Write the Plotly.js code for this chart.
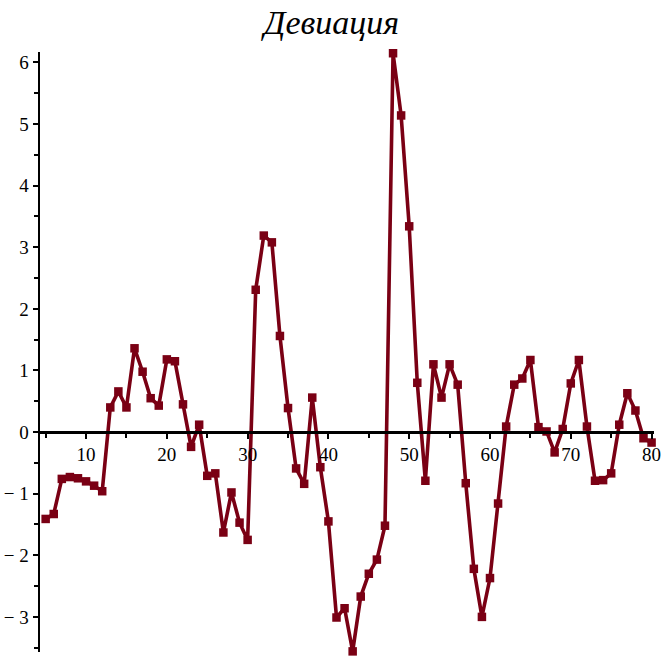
<!DOCTYPE html>
<html>
<head>
<meta charset="utf-8">
<script src="https://cdn.plot.ly/plotly-3.0.1.min.js"></script>
<style>
  html, body { margin: 0; padding: 0; background: #fff; }
  #chart { width: 663px; height: 656px; }
</style>
</head>
<body>
<div id="chart"></div>
<script>
// Deviation series, one value per step from 5 to 80
const steps = [
  5, 6, 7, 8, 9, 10, 11, 12, 13, 14, 15, 16, 17, 18, 19, 20,
  21, 22, 23, 24, 25, 26, 27, 28, 29, 30, 31, 32, 33, 34, 35, 36,
  37, 38, 39, 40, 41, 42, 43, 44, 45, 46, 47, 48, 49, 50, 51, 52,
  53, 54, 55, 56, 57, 58, 59, 60, 61, 62, 63, 64, 65, 66, 67, 68,
  69, 70, 71, 72, 73, 74, 75, 76, 77, 78, 79, 80
];
const deviation = [
  -1.41, -1.33, -0.76, -0.73, -0.75, -0.80, -0.87, -0.96, 0.40, 0.66, 0.40, 1.36, 0.98, 0.55, 0.43, 1.18,
  1.15, 0.45, -0.24, 0.12, -0.71, -0.67, -1.63, -0.98, -1.47, -1.75, 2.31, 3.19, 3.08, 1.56, 0.39, -0.59,
  -0.84, 0.56, -0.57, -1.45, -3.01, -2.86, -3.56, -2.67, -2.30, -2.07, -1.52, 6.15, 5.14, 3.34, 0.80, -0.79,
  1.10, 0.56, 1.10, 0.77, -0.83, -2.22, -3.00, -2.37, -1.16, 0.09, 0.77, 0.87, 1.17, 0.08, 0.01, -0.33,
  0.05, 0.79, 1.17, 0.09, -0.79, -0.78, -0.67, 0.12, 0.63, 0.35, -0.10, -0.17
];

const xTickVals = [10, 20, 30, 40, 50, 60, 70, 80];
const yTickVals = [-3, -2, -1, 0, 1, 2, 3, 4, 5, 6];
const yTickText = ['\u2212 3', '\u2212 2', '\u2212 1', '0', '1', '2', '3', '4', '5', '6'];

const xRange = [4.3, 80.3];
const yRange = [-3.57, 6.17];
// place the horizontal axis on the line y = 0
const xAxisPos = (0 - yRange[0]) / (yRange[1] - yRange[0]);

const lineColor = '#7a0014';
const serif = 'Liberation Serif';

const trace = {
  x: steps,
  y: deviation,
  type: 'scatter',
  mode: 'lines+markers',
  line: { color: lineColor, width: 3.6 },
  marker: { symbol: 'square', size: 8.5, color: lineColor },
  cliponaxis: false,
  hoverinfo: 'x+y'
};

const layout = {
  width: 663,
  height: 656,
  font: { family: serif, size: 19, color: '#000' },
  paper_bgcolor: '#fff',
  plot_bgcolor: '#fff',
  showlegend: false,
  margin: { l: 40, r: 9, t: 52, b: 4 },
  title: {
    text: 'Девиация',
    font: { family: serif, size: 34, style: 'italic', color: '#000' },
    x: 0.5, xanchor: 'center',
    y: 0.966, yanchor: 'middle', yref: 'container'
  },
  xaxis: {
    range: xRange,
    anchor: 'free',
    position: xAxisPos,
    showgrid: false,
    zeroline: false,
    showline: true,
    linecolor: '#000',
    linewidth: 2.5,
    tickmode: 'array',
    tickvals: xTickVals,
    ticks: 'outside',
    ticklen: 5,
    tickwidth: 2,
    tickcolor: '#000',
    minor: { dtick: 5, tick0: 5, ticks: 'outside', ticklen: 4, tickwidth: 2, tickcolor: '#000', showgrid: false },
    tickfont: { size: 19 }
  },
  yaxis: {
    range: yRange,
    showgrid: false,
    zeroline: false,
    showline: true,
    linecolor: '#000',
    linewidth: 2.5,
    tickmode: 'array',
    tickvals: yTickVals,
    ticktext: yTickText,
    ticks: 'outside',
    ticklen: 5,
    tickwidth: 2,
    tickcolor: '#000',
    minor: { dtick: 0.5, tick0: 0, ticks: 'outside', ticklen: 4, tickwidth: 2, tickcolor: '#000', showgrid: false },
    tickfont: { size: 19 }
  }
};

Plotly.newPlot('chart', [trace], layout, { displayModeBar: false, staticPlot: true });
</script>
</body>
</html>
